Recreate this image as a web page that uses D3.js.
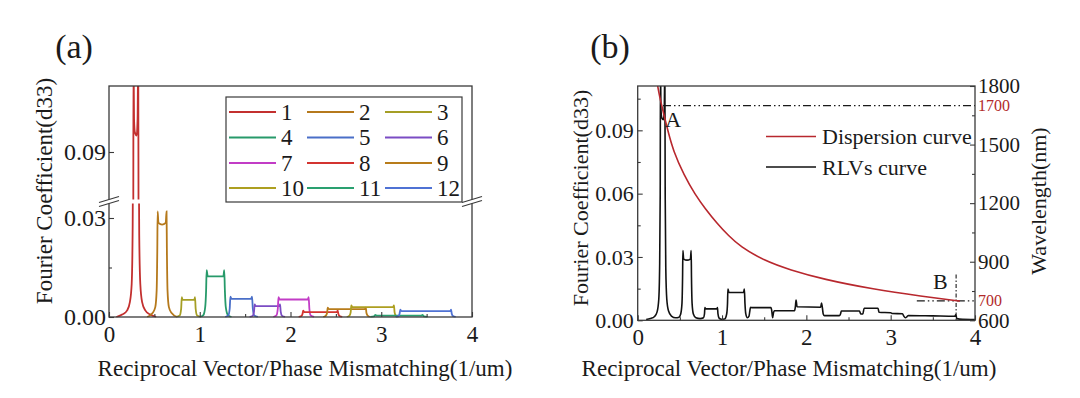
<!DOCTYPE html>
<html>
<head>
<meta charset="utf-8">
<script src="https://d3js.org/d3.v7.min.js"></script>
<style>
  body { margin: 0; background: #fff; }
  svg { display: block; font-family: "Liberation Serif", "Times New Roman", serif; }
</style>
</head>
<body>
<div id="chart"></div>
<script>
// ---- data ----
const xTicks = [0, 1, 2, 3, 4];
const xMinor = [0.5, 1.5, 2.5, 3.5];

// panel (a): one flat-top band per order, [x, coefficient]
const o1 = [[0.08,0],[0.15,0.0008],[0.2,0.002],[0.23,0.0045],[0.25,0.01],[0.26,0.025],[0.267,0.06],[0.27,0.12],[0.276,0.1],[0.285,0.096],[0.305,0.095],[0.315,0.1],[0.322,0.12],[0.326,0.06],[0.333,0.025],[0.345,0.01],[0.365,0.0045],[0.4,0.002],[0.45,0.0008],[0.52,0]];
const o2 = [[0.42,0],[0.48,0.0012],[0.51,0.003],[0.525,0.008],[0.532,0.02],[0.536,0.032],[0.545,0.0285],[0.585,0.028],[0.625,0.0285],[0.634,0.032],[0.638,0.02],[0.645,0.008],[0.66,0.003],[0.69,0.0012],[0.75,0]];
const o3 = [[0.74,0],[0.78,0.0005],[0.795,0.0025],[0.802,0.006],[0.81,0.0052],[0.94,0.0052],[0.948,0.006],[0.955,0.0025],[0.97,0.0005],[1.01,0]];
const o4 = [[1.0,0],[1.04,0.0006],[1.06,0.003],[1.07,0.008],[1.076,0.0142],[1.088,0.0123],[1.26,0.0123],[1.27,0.0142],[1.277,0.008],[1.287,0.003],[1.31,0.0006],[1.35,0]];
const o5 = [[1.28,0],[1.315,0.0005],[1.33,0.0025],[1.338,0.0062],[1.35,0.0055],[1.565,0.0055],[1.576,0.0062],[1.585,0.0025],[1.6,0.0005],[1.64,0]];
const o6 = [[1.55,0],[1.585,0.0004],[1.598,0.0016],[1.605,0.0038],[1.617,0.0033],[1.875,0.0033],[1.885,0.0038],[1.892,0.0016],[1.905,0.0004],[1.94,0]];
const o7 = [[1.81,0],[1.845,0.0005],[1.86,0.0025],[1.868,0.006],[1.88,0.0053],[2.19,0.0053],[2.2,0.006],[2.208,0.0025],[2.222,0.0005],[2.26,0]];
const o8 = [[2.09,0],[2.12,0.0003],[2.133,0.001],[2.14,0.0019],[2.152,0.0015],[2.51,0.0015],[2.52,0.0019],[2.527,0.001],[2.54,0.0003],[2.57,0]];
const o9 = [[2.36,0],[2.39,0.0004],[2.403,0.0012],[2.41,0.0028],[2.422,0.0024],[2.82,0.0024],[2.83,0.0028],[2.837,0.0012],[2.85,0.0004],[2.88,0]];
const o10 = [[2.62,0],[2.65,0.0004],[2.663,0.0014],[2.67,0.0035],[2.682,0.003],[3.13,0.003],[3.14,0.0035],[3.147,0.0014],[3.16,0.0004],[3.19,0]];
const o11 = [[2.88,0],[2.92,0.0002],[2.935,0.0006],[2.95,0.0004],[3.44,0.0004],[3.455,0.0006],[3.47,0.0002],[3.51,0]];
const o12 = [[3.16,0],[3.19,0.0003],[3.202,0.001],[3.21,0.0022],[3.222,0.0018],[3.76,0.0018],[3.77,0.0022],[3.777,0.001],[3.79,0.0003],[3.82,0]];
const orders = [o1, o2, o3, o4, o5, o6, o7, o8, o9, o10, o11, o12];
const orderNames = ["1","2","3","4","5","6","7","8","9","10","11","12"];
const orderColors = ["#c3302f","#b5791c","#a59e25","#279a6a","#4a6fc8","#7b4cc4",
                     "#c23cc6","#d33430","#b87c1a","#ad9f20","#2aa070","#4f72d4"];
const aYTicks = [0, 0.03, 0.09];

// panel (b): RLVs curve, [x, coefficient]
const rlv = [[0.1,0.0004],[0.15,0.0008],[0.2,0.0018],[0.23,0.004],[0.25,0.01],[0.26,0.025],[0.267,0.06],[0.27,0.12],[0.276,0.1],[0.285,0.096],[0.305,0.095],[0.315,0.1],[0.322,0.12],[0.326,0.06],[0.333,0.025],[0.345,0.01],[0.365,0.0045],[0.4,0.002],[0.45,0.0012],[0.49,0.0015],[0.51,0.003],[0.525,0.008],[0.532,0.02],[0.536,0.033],[0.545,0.029],[0.585,0.0285],[0.625,0.029],[0.634,0.033],[0.638,0.02],[0.645,0.008],[0.66,0.003],[0.69,0.0012],[0.74,0.0008],[0.78,0.0012],[0.792,0.003],[0.797,0.006],[0.805,0.0054],[0.94,0.0054],[0.946,0.006],[0.952,0.003],[0.965,0.001],[0.99,0.0005],[1.03,0.0006],[1.055,0.003],[1.065,0.008],[1.07,0.0148],[1.082,0.0132],[1.255,0.0132],[1.265,0.0148],[1.272,0.008],[1.282,0.003],[1.3,0.0012],[1.32,0.002],[1.33,0.0045],[1.338,0.0062],[1.35,0.006],[1.58,0.006],[1.59,0.0045],[1.6,0.0012],[1.61,0.0035],[1.62,0.0045],[1.86,0.0045],[1.87,0.0065],[1.878,0.0096],[1.89,0.0064],[2.17,0.0062],[2.18,0.0082],[2.19,0.006],[2.2,0.003],[2.215,0.0022],[2.39,0.0022],[2.405,0.003],[2.415,0.0044],[2.63,0.0044],[2.645,0.003],[2.67,0.003],[2.685,0.0057],[2.85,0.0057],[2.862,0.0038],[3.0,0.0036],[3.02,0.0032],[3.14,0.0031],[3.155,0.002],[3.175,0.0012],[3.195,0.0018],[3.21,0.0023],[3.5,0.0021],[3.76,0.0019],[3.772,0.0026],[3.785,0.0008],[3.85,0.0005],[4.0,0.0004]];

// dispersion curve, x vs wavelength (nm)
const dispX  = [0.237, 0.262, 0.285, 0.32, 0.36, 0.42, 0.55, 0.68, 0.8, 0.94, 1.08, 1.21, 1.5, 1.807, 2.2, 2.79, 3.39, 3.77, 3.82];
const dispWl = [1800, 1742, 1700, 1635, 1568, 1470, 1342, 1245, 1172, 1097, 1032, 980, 905, 858, 810, 759, 722, 701, 698];

const bYTicks = [0, 0.03, 0.06, 0.09];
const bYMinor = [0.015, 0.045, 0.075, 0.105];
const wlTicks = [600, 900, 1200, 1500, 1800];
const wlMinor = [750, 1050, 1350, 1650];
const wlMarks = [700, 1700];
const pointA = [0.42, 0.095];
const pointB = [3.59, 800];
const crossB = 3.776;
const crossBTop = 835;
const lineAStart = 0.3;
const lineBStart = 3.31;

// ---- drawing ----
const width = 1080, height = 398;
const ink = "#1a1a1a", frame = "#3a3a3a";
const svg = d3.select("#chart").append("svg")
  .attr("width", width).attr("height", height);

const styleAxis = (g, size) => {
  g.attr("font-family", null).attr("font-size", null);
  g.select(".domain").remove();
  g.selectAll(".tick line").attr("stroke", frame).attr("stroke-width", 1.1);
  g.selectAll(".tick text").attr("fill", ink).style("font-size", size + "px");
};

const lineGen = (xs, ys, curve) => d3.line()
  .x(d => xs(d[0])).y(d => ys(d[1]))
  .curve(curve || d3.curveMonotoneX);

// ===== panel (a) =====
const ax = d3.scaleLinear().domain([0, 4]).range([109, 472]);
const brk = 201.5;
const ayLo = d3.scaleLinear().domain([0, 0.035]).range([317, brk]);
const ayHi = d3.scaleLinear().domain([0.075, 0.11]).range([brk, 86]);

const defs = svg.append("defs");
defs.append("clipPath").attr("id", "clipALo").append("rect")
  .attr("x", 109).attr("y", brk + 2).attr("width", 363).attr("height", 317 - brk - 1.5);
defs.append("clipPath").attr("id", "clipAHi").append("rect")
  .attr("x", 109).attr("y", 86).attr("width", 363).attr("height", brk - 2 - 86);

const ga = svg.append("g");
[["clipALo", ayLo], ["clipAHi", ayHi]].forEach(([id, ys]) => {
  ga.append("g").attr("clip-path", `url(#${id})`)
    .selectAll("path").data(orders).join("path")
    .attr("d", d => lineGen(ax, ys)(d))
    .attr("fill", "none")
    .attr("stroke", (d, i) => orderColors[i])
    .attr("stroke-width", 1.8);
});

ga.append("rect").attr("x", 109).attr("y", 86).attr("width", 363).attr("height", 231)
  .attr("fill", "none").attr("stroke", frame).attr("stroke-width", 1.3);

ga.append("g").attr("transform", "translate(0,317)")
  .call(d3.axisBottom(ax).tickValues(xTicks).tickSizeInner(-5).tickSizeOuter(0).tickPadding(9).tickFormat(d3.format("d")))
  .call(g => styleAxis(g, 23));
ga.append("g").attr("transform", "translate(0,317)")
  .call(d3.axisBottom(ax).tickValues(xMinor).tickSizeInner(-3).tickSizeOuter(0).tickFormat(""))
  .call(g => styleAxis(g, 23));
ga.append("g").attr("transform", "translate(109,0)")
  .call(d3.axisLeft(ayLo).tickValues(aYTicks.filter(v => v < 0.035)).tickSizeInner(-5).tickSizeOuter(0).tickPadding(3).tickFormat(d3.format(".2f")))
  .call(g => styleAxis(g, 24));
ga.append("g").attr("transform", "translate(109,0)")
  .call(d3.axisLeft(ayHi).tickValues(aYTicks.filter(v => v > 0.075)).tickSizeInner(-5).tickSizeOuter(0).tickPadding(3).tickFormat(d3.format(".2f")))
  .call(g => styleAxis(g, 24));
ga.append("g").attr("transform", "translate(109,0)")
  .call(d3.axisLeft(ayLo).tickValues([0.015]).tickSizeInner(-3).tickSizeOuter(0).tickFormat(""))
  .call(g => styleAxis(g, 24));

// axis break marks
[109, 472].forEach(x0 => {
  ga.append("polygon")
    .attr("points", `${x0-10},${brk+1} ${x0+10},${brk-5} ${x0+10},${brk-1} ${x0-10},${brk+5}`)
    .attr("fill", "#fff");
  [0, 4].forEach(o => ga.append("line")
    .attr("x1", x0 - 10).attr("y1", brk + 1 + o).attr("x2", x0 + 10).attr("y2", brk - 5 + o)
    .attr("stroke", frame).attr("stroke-width", 1.2));
});

// legend (a)
const legA = ga.append("g");
legA.append("rect").attr("x", 226).attr("y", 97).attr("width", 236).attr("height", 105)
  .attr("fill", "#fff").attr("stroke", frame).attr("stroke-width", 1.2);
const colX = [229, 307, 385];
const rowY = [112, 137.5, 163, 188];
orderNames.forEach((name, i) => {
  const cx = colX[i % 3], cy = rowY[Math.floor(i / 3)];
  legA.append("line").attr("x1", cx).attr("x2", cx + 47).attr("y1", cy).attr("y2", cy)
    .attr("stroke", orderColors[i]).attr("stroke-width", 1.8);
  legA.append("text").attr("x", cx + 52).attr("y", cy).attr("dominant-baseline", "central")
    .attr("fill", ink).style("font-size", "23px").text(name);
});

ga.append("text").attr("x", 74).attr("y", 58).attr("text-anchor", "middle")
  .attr("fill", ink).style("font-size", "34px").text("(a)");
ga.append("text").attr("transform", "translate(44,191) rotate(-90)").attr("text-anchor", "middle")
  .attr("dominant-baseline", "central").attr("fill", ink).style("font-size", "23px")
  .text("Fourier Coefficient(d33)");
ga.append("text").attr("x", 305).attr("y", 376).attr("text-anchor", "middle")
  .attr("fill", ink).style("font-size", "23px").text("Reciprocal Vector/Phase Mismatching(1/um)");

// ===== panel (b) =====
const bx = d3.scaleLinear().domain([0, 4]).range([637.7, 975]);
const by = d3.scaleLinear().domain([0, 0.111]).range([320.3, 86]);
const bw = d3.scaleLinear().domain([600, 1800]).range([320.3, 86]);

defs.append("clipPath").attr("id", "clipB").append("rect")
  .attr("x", 637.7).attr("y", 86).attr("width", 337.3).attr("height", 234.3);

const gb = svg.append("g");
const plotB = gb.append("g").attr("clip-path", "url(#clipB)");

const dashDotDot = "8,3,1.5,3,1.5,3";
plotB.append("line").attr("x1", bx(lineAStart)).attr("x2", bx(4))
  .attr("y1", bw(wlMarks[1])).attr("y2", bw(wlMarks[1]))
  .attr("stroke", ink).attr("stroke-width", 1.2).attr("stroke-dasharray", dashDotDot);
plotB.append("line").attr("x1", bx(lineBStart)).attr("x2", bx(4))
  .attr("y1", bw(wlMarks[0])).attr("y2", bw(wlMarks[0]))
  .attr("stroke", ink).attr("stroke-width", 1.2).attr("stroke-dasharray", dashDotDot);
plotB.append("line").attr("x1", bx(crossB)).attr("x2", bx(crossB))
  .attr("y1", bw(crossBTop)).attr("y2", bw(600))
  .attr("stroke", ink).attr("stroke-width", 1.1).attr("stroke-dasharray", "4,2,1.5,2");

plotB.append("path").datum(rlv)
  .attr("d", lineGen(bx, by))
  .attr("fill", "none").attr("stroke", "#111").attr("stroke-width", 1.6);

plotB.append("path").datum(dispX.map((x, i) => [x, dispWl[i]]))
  .attr("d", lineGen(bx, bw, d3.curveBasis))
  .attr("fill", "none").attr("stroke", "#b8282e").attr("stroke-width", 1.6);

gb.append("rect").attr("x", 637.7).attr("y", 86).attr("width", 337.3).attr("height", 234.3)
  .attr("fill", "none").attr("stroke", frame).attr("stroke-width", 1.3);

gb.append("g").attr("transform", "translate(0,320.3)")
  .call(d3.axisBottom(bx).tickValues(xTicks).tickSizeInner(-5).tickSizeOuter(0).tickPadding(8).tickFormat(d3.format("d")))
  .call(g => styleAxis(g, 23));
gb.append("g").attr("transform", "translate(0,320.3)")
  .call(d3.axisBottom(bx).tickValues(xMinor).tickSizeInner(-3).tickSizeOuter(0).tickFormat(""))
  .call(g => styleAxis(g, 23));
gb.append("g").attr("transform", "translate(637.7,0)")
  .call(d3.axisLeft(by).tickValues(bYTicks).tickSizeInner(-5).tickSizeOuter(0).tickPadding(4).tickFormat(d3.format(".2f")))
  .call(g => styleAxis(g, 22));
gb.append("g").attr("transform", "translate(637.7,0)")
  .call(d3.axisLeft(by).tickValues(bYMinor).tickSizeInner(-3).tickSizeOuter(0).tickFormat(""))
  .call(g => styleAxis(g, 22));
gb.append("g").attr("transform", "translate(975,0)")
  .call(d3.axisRight(bw).tickValues(wlTicks).tickSizeInner(-5).tickSizeOuter(0).tickPadding(3).tickFormat(d3.format("d")))
  .call(g => styleAxis(g, 21));
gb.append("g").attr("transform", "translate(975,0)")
  .call(d3.axisRight(bw).tickValues(wlMinor).tickSizeInner(-3).tickSizeOuter(0).tickFormat(""))
  .call(g => styleAxis(g, 21));

gb.selectAll(".wl-mark").data(wlMarks).join("text")
  .attr("class", "wl-mark")
  .attr("x", 978).attr("y", d => bw(d)).attr("dominant-baseline", "central")
  .attr("fill", "#b22a2a").style("font-size", "16px").text(d => d);

gb.append("text").attr("x", bx(pointA[0])).attr("y", by(pointA[1])).attr("text-anchor", "middle")
  .attr("dominant-baseline", "central").attr("fill", ink).style("font-size", "22px").text("A");
gb.append("text").attr("x", bx(pointB[0])).attr("y", bw(pointB[1])).attr("text-anchor", "middle")
  .attr("dominant-baseline", "central").attr("fill", ink).style("font-size", "22px").text("B");

// legend (b)
const legB = [["Dispersion curve", "#b8282e", 136.5], ["RLVs curve", "#111", 167]];
legB.forEach(([label, col, y]) => {
  gb.append("line").attr("x1", 766).attr("x2", 816).attr("y1", y).attr("y2", y)
    .attr("stroke", col).attr("stroke-width", 1.6);
  gb.append("text").attr("x", 822).attr("y", y).attr("dominant-baseline", "central")
    .attr("fill", ink).style("font-size", "22px").text(label);
});

gb.append("text").attr("x", 610).attr("y", 58).attr("text-anchor", "middle")
  .attr("fill", ink).style("font-size", "34px").text("(b)");
gb.append("text").attr("transform", "translate(580,198) rotate(-90)").attr("text-anchor", "middle")
  .attr("dominant-baseline", "central").attr("fill", ink).style("font-size", "22px")
  .text("Fourier Coefficient(d33)");
gb.append("text").attr("transform", "translate(1038,201) rotate(-90)").attr("text-anchor", "middle")
  .attr("dominant-baseline", "central").attr("fill", ink).style("font-size", "22px")
  .text("Wavelength(nm)");
gb.append("text").attr("x", 789).attr("y", 376).attr("text-anchor", "middle")
  .attr("fill", ink).style("font-size", "23px").text("Reciprocal Vector/Phase Mismatching(1/um)");
</script>
</body>
</html>
